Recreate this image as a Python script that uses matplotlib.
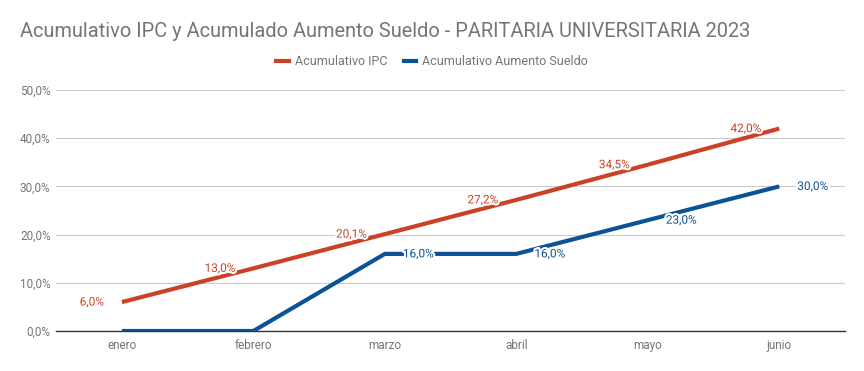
import matplotlib
matplotlib.use('Agg')
import matplotlib.pyplot as plt
import matplotlib.patheffects as pe
from matplotlib.lines import Line2D

meses = ['enero', 'febrero', 'marzo', 'abril', 'mayo', 'junio']
ipc = [6.0, 13.0, 20.1, 27.2, 34.5, 42.0]
sueldo = [0.0, 0.0, 16.0, 16.0, 23.0, 30.0]
sueldo_con_etiqueta = [False, False, True, True, True, True]
y_ticks = [0, 10, 20, 30, 40, 50]

ROJO = '#cc4125'
AZUL = '#0b5394'
GRIS = '#757575'

plt.rcParams['font.family'] = ['Roboto', 'DejaVu Sans']


def pct(v):
    return f'{v:.1f}%'.replace('.', ',')


fig = plt.figure(figsize=(8.64, 3.71), dpi=100)
ax = fig.add_axes([0.065, 0.1078, 0.913, 0.6496])

x = list(range(len(meses)))
ax.plot(x, ipc, color=ROJO, lw=3, solid_capstyle='butt', zorder=3)
ax.plot(x, sueldo, color=AZUL, lw=3, solid_capstyle='butt', zorder=3)

halo = [pe.withStroke(linewidth=3, foreground='white')]
for i, v in enumerate(ipc):
    ax.annotate(pct(v), (i, v), xytext=(-13, 0), textcoords='offset points',
                ha='right', va='center', fontsize=8.5, color=ROJO,
                path_effects=halo, zorder=4)
for i, v in enumerate(sueldo):
    if not sueldo_con_etiqueta[i]:
        continue
    ax.annotate(pct(v), (i, v), xytext=(13, 0), textcoords='offset points',
                ha='left', va='center', fontsize=8.5, color=AZUL,
                path_effects=halo, zorder=4)

ax.set_xlim(-0.5, len(meses) - 0.5)
ax.set_ylim(0, 50)
ax.set_xticks(x)
ax.set_xticklabels(meses)
ax.set_yticks(y_ticks)
ax.set_yticklabels([pct(t) for t in y_ticks])
ax.tick_params(length=0, colors=GRIS, labelsize=8.5, pad=6)
ax.tick_params(axis='y', pad=4)
ax.grid(axis='y', color='#cccccc', lw=0.8)
ax.set_axisbelow(True)
for s in ['top', 'right', 'left']:
    ax.spines[s].set_visible(False)
ax.spines['bottom'].set_color('#333333')
ax.spines['bottom'].set_linewidth(1)

fig.text(0.023, 0.915, 'Acumulativo IPC y Acumulado Aumento Sueldo - PARITARIA UNIVERSITARIA 2023',
         fontsize=14.4, color=GRIS, ha='left', va='center')

handles = [Line2D([], [], color=ROJO, lw=3), Line2D([], [], color=AZUL, lw=3)]
fig.legend(handles, ['Acumulativo IPC', 'Acumulativo Aumento Sueldo'],
           loc='center', bbox_to_anchor=(0.5, 0.833), ncol=2, frameon=False,
           fontsize=9, labelcolor=GRIS, handlelength=1.0, handletextpad=0.5,
           columnspacing=1.3)

fig.savefig('out.png', dpi=100)
